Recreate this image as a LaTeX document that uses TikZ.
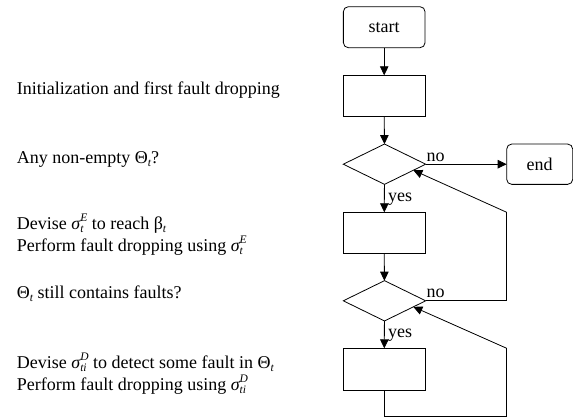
\documentclass[tikz,border=0pt]{standalone}
\usepackage{fontspec}
\setmainfont{Liberation Serif}
\usetikzlibrary{shapes.geometric,arrows.meta,calc}
\newcommand\myscript{\fontsize{11.5}{12}\selectfont\itshape}
\newcommand\mysupsub[2]{%
  \setbox0\hbox{\myscript #1}\setbox2\hbox{\myscript #2}%
  \ifdim\wd0>\wd2 \dimen0=\wd0 \else \dimen0=\wd2 \fi
  \rlap{\raise 7.5pt\box0}\rlap{\lower 3pt\box2}\hspace*{\dimen0}}
\newcommand\mysubs[1]{\raisebox{-3pt}{\myscript #1}}
\begin{document}
\begin{tikzpicture}[x=1pt,y=-1pt,
  txt/.style={inner sep=0pt,anchor=base west,font=\fontsize{18}{21}\selectfont},
  boxstyle/.style={draw,line width=0.8pt,minimum width=81.7pt,minimum height=41pt,inner sep=0pt,outer sep=0pt,font=\fontsize{18}{21}\selectfont},
  termstyle/.style={boxstyle,rounded corners=5pt},
  decision/.style={draw,line width=0.8pt,diamond,minimum width=82.4pt,minimum height=40.3pt,inner sep=0pt,outer sep=0pt},
  flow/.style={line width=0.8pt,-{Triangle[length=9pt,width=8.5pt]}},
  plain/.style={line width=0.8pt}
]
\useasboundingbox (0,0) rectangle (573,418);

% flowchart nodes
\node[termstyle] (start) at (384.2,27.2) {start};
\node[boxstyle] (b1) at (384.2,95.8) {};
\node[decision] (d1) at (384.5,164.2) {};
\node[termstyle,minimum width=66pt,minimum height=40.3pt] (end) at (539.7,164.2) {end};
\node[boxstyle] (b2) at (384.2,232.8) {};
\node[decision] (d2) at (384.5,300.8) {};
\node[boxstyle,minimum height=41.7pt] (b3) at (384.2,369.2) {};

% helper coordinates
\coordinate (c1) at (506.7,212.3);
\coordinate (c2) at (506.7,300.8);
\coordinate (c3) at (384.2,416.7);
\coordinate (c4) at (506.7,416.7);
\coordinate (c5) at (506.7,348.3);
\coordinate (t1) at ($(d1.east)!0.3!(d1.south)$);
\coordinate (t2) at ($(d2.east)!0.3!(d2.south)$);

% connectors
\draw[flow] (start) -- (b1);
\draw[flow] (b1) -- (d1);
\draw[flow] (d1.east) -- (end.west);
\draw[flow] (d1) -- (b2);
\draw[flow] (b2) -- (d2);
\draw[flow] (d2) -- (b3);
\draw[plain] (d2.east) -- (c2) -- (c1);
\draw[flow] (c1) -- (t1);
\draw[plain] (b3.south) -- (c3) -- (c4) -- (c5);
\draw[flow] (c5) -- (t2);

% branch labels
\node[txt] (no1) at (426.5,161) {no};
\node[txt] (yes1) at (388,201) {yes};
\node[txt] (no2) at (426.5,297.5) {no};
\node[txt] (yes2) at (388,337.5) {yes};

% descriptions
\node[txt] (l1) at (16.7,94.6) {Initialization and first fault dropping};
\node[txt] (l2) at (16.7,163.6) {Any non-empty Θ\mysubs{t}?};
\node[txt] (l3a) at (16.7,229) {Devise {\itshape σ}\mysupsub{E}{t} to reach β\mysubs{t}};
\node[txt] (l3b) at (16.7,251) {Perform fault dropping using {\itshape σ}\mysupsub{E}{t}};
\node[txt] (l4) at (16.7,298.5) {Θ\mysubs{t} still contains faults?};
\node[txt] (l5a) at (16.7,368) {Devise {\itshape σ}\mysupsub{D}{ti} to detect some fault in Θ\mysubs{t}};
\node[txt] (l5b) at (16.7,390) {Perform fault dropping using {\itshape σ}\mysupsub{D}{ti}};
\end{tikzpicture}
\end{document}
